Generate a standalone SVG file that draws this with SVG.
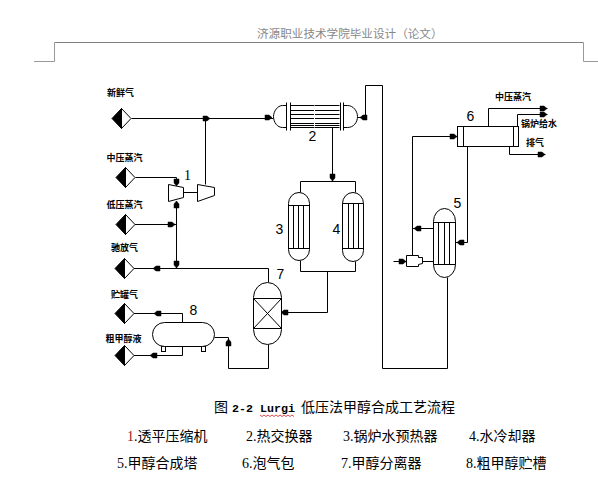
<svg xmlns="http://www.w3.org/2000/svg" xmlns:xlink="http://www.w3.org/1999/xlink" width="598" height="490" viewBox="0 0 598 490">
<style>
.l{fill:none;stroke:#000;stroke-width:1}
.s{fill:#fff;stroke:#000;stroke-width:1}
.t{font-family:"Noto Sans CJK SC",sans-serif;font-size:9px;font-weight:700;fill:#000;text-anchor:middle}
.n{font-family:"Liberation Sans",sans-serif;font-size:14px;fill:#000;text-anchor:middle}
.c{font-family:"Liberation Serif","Noto Sans CJK SC",serif;font-size:14px;fill:#000}
.m{font-family:"Liberation Mono",monospace;font-size:11.67px;font-weight:700}
.h{font-family:"Noto Sans CJK SC",sans-serif;font-size:11.6px;fill:#888}
</style>
<defs>
<g id="ah"><polygon points="-3.5,-2.5 0.5,-2.5 3.5,0 0.5,2.5 -3.5,2.5" fill="#000" stroke="#000" stroke-width=".5"/></g>
<g id="dm"><polygon points="0,-10 9.5,0 0,10" fill="#fff" stroke="#000"/><polygon points="0,-10 -9.5,0 0,10" fill="#000" stroke="#000"/></g>
</defs>

<g id="header">
<path d="M34 61.5H54.5V42.5H583.5V61.5H598" fill="none" stroke="#999"/>
<path d="M55 42.5H583" fill="none" stroke="#808080"/>
<text class="h" x="257" y="38">济源职业技术学院毕业设计（论文）</text>
</g>

<g id="connectors" transform="translate(.5 .5)">
<path class="l" d="M131 118H273"/>
<path class="l" d="M205 118V184"/>
<path class="l" d="M135 177H176V185"/>
<path class="l" d="M134 224H176"/>
<path class="l" d="M176 201V268"/>
<path class="l" d="M183 192H197"/>
<path class="l" d="M133 268H268V282"/>
<path class="l" d="M133 313H182V322"/>
<path class="l" d="M182 346V355H133"/>
<path class="l" d="M214 337H228V368H268V344"/>
<path class="l" d="M281 312H327V271"/>
<path class="l" d="M300 260V271H355V261"/>
<path class="l" d="M300 192V181H355V192"/>
<path class="l" d="M332 127V181"/>
<path class="l" d="M357 117H365V85H382V368H447V277"/>
<path class="l" d="M488 126V108H547"/>
<path class="l" d="M517 126V114H547"/>
<path class="l" d="M509 146V154H545"/>
<path class="l" d="M457 136H412V255"/>
<path class="l" d="M433 228H412"/>
<path class="l" d="M467 146V242H455"/>
<path class="l" d="M433 261H422"/>
<path class="l" d="M393 261H406"/>
<use xlink:href="#ah" transform="translate(206 118)"/>
<use xlink:href="#ah" transform="translate(176 182) rotate(90)"/>
<use xlink:href="#ah" transform="translate(176 204) rotate(-90)"/>
<use xlink:href="#ah" transform="translate(171 224)"/>
<use xlink:href="#ah" transform="translate(176 264) rotate(90)"/>
<use xlink:href="#ah" transform="translate(156 268) rotate(180)"/>
<use xlink:href="#ah" transform="translate(157 313) rotate(180)"/>
<use xlink:href="#ah" transform="translate(153 355) rotate(180)"/>
<use xlink:href="#ah" transform="translate(228 342) rotate(-90)"/>
<use xlink:href="#ah" transform="translate(284 312) rotate(180)"/>
<use xlink:href="#ah" transform="translate(268 117)"/>
<use xlink:href="#ah" transform="translate(363 117) rotate(180)"/>
<use xlink:href="#ah" transform="translate(332 177) rotate(90)"/>
<use xlink:href="#ah" transform="translate(543 108)"/>
<use xlink:href="#ah" transform="translate(543 114)"/>
<use xlink:href="#ah" transform="translate(541 154)"/>
<use xlink:href="#ah" transform="translate(453 136)"/>
<use xlink:href="#ah" transform="translate(417 228) rotate(180)"/>
<use xlink:href="#ah" transform="translate(460 242) rotate(180)"/>
<use xlink:href="#ah" transform="translate(402 261)"/>
</g>

<g id="feed-fresh" transform="translate(.5 .5)"><use xlink:href="#dm" transform="translate(121 118)"/><text class="t" x="120" y="95">新鲜气</text></g>
<g id="feed-mp-steam" transform="translate(.5 .5)"><use xlink:href="#dm" transform="translate(125 177)"/><text class="t" x="124" y="160">中压蒸汽</text></g>
<g id="feed-lp-steam" transform="translate(.5 .5)"><use xlink:href="#dm" transform="translate(125 224)"/><text class="t" x="124" y="207">低压蒸汽</text></g>
<g id="out-purge" transform="translate(.5 .5)"><use xlink:href="#dm" transform="translate(124 268)"/><text class="t" x="124" y="250">驰放气</text></g>
<g id="out-tank-gas" transform="translate(.5 .5)"><use xlink:href="#dm" transform="translate(124 313)"/><text class="t" x="124" y="297">贮罐气</text></g>
<g id="out-crude" transform="translate(.5 .5)"><use xlink:href="#dm" transform="translate(124 355)"/><text class="t" x="123" y="341">粗甲醇液</text></g>

<g id="compressor-1" transform="translate(.5 .5)">
<polygon class="s" points="168,184 183,187 183,197 168,201"/>
<polygon class="s" points="197,184 214,187 214,195 197,201"/>
<text class="n" x="187" y="179" style="font-family:'Liberation Serif',serif">1</text>
</g>

<g id="exchanger-2" transform="translate(.5 .5)">
<path class="s" d="M286 105H282C277 105 273 111 273 116C273 122 277 127 282 127H286Z"/>
<path class="s" d="M343 105H347C353 105 357 111 357 116C357 122 353 127 347 127H343Z"/>
<path class="l" d="M286 102V130M290 102V130M340 102V130M343 102V130"/>
<path class="l" d="M290 105H339M290 110H339M290 114H339M290 118H339M290 123H339M290 125H339M290 127H339"/>
<path d="M314 105V127" fill="none" stroke="#fff"/>
<text class="n" x="312" y="140">2</text>
</g>

<g id="vessel-3" transform="translate(.5 .5)">
<rect class="s" x="288" y="192" width="21" height="68" rx="10.5" ry="11"/>
<path class="l" d="M288 205H309M288 248H309M293 205V248M298 205V248M303 205V248"/>
<text class="n" x="279" y="233">3</text>
</g>

<g id="vessel-4" transform="translate(.5 .5)">
<rect class="s" x="342" y="192" width="21" height="69" rx="10.5" ry="11"/>
<path class="l" d="M342 203H363M342 248H363M348 203V248M353 203V248M358 203V248"/>
<text class="n" x="336" y="233">4</text>
</g>

<g id="reactor-5" transform="translate(.5 .5)">
<rect class="s" x="433" y="208" width="22" height="69" rx="11" ry="13"/>
<path class="l" d="M433 222H455M433 264H455M438 222V264M444 222V264M449 222V264"/>
<text class="n" x="457" y="207">5</text>
</g>

<g id="drum-6" transform="translate(.5 .5)">
<rect class="s" x="457" y="126" width="61" height="20"/>
<path class="l" d="M463 126V146M513 126V146"/>
<text class="n" x="470" y="120">6</text>
</g>

<g id="separator-7" transform="translate(.5 .5)">
<rect class="s" x="253" y="282" width="28" height="62" rx="14" ry="15"/>
<rect class="s" x="253" y="298" width="28" height="30"/>
<path class="l" d="M253 298L281 328M281 298L253 328"/>
<text class="n" x="280" y="278">7</text>
</g>

<g id="tank-8" transform="translate(.5 .5)">
<rect class="s" x="161" y="346" width="4" height="5"/>
<rect class="s" x="201" y="346" width="4" height="5"/>
<rect class="s" x="152" y="322" width="62" height="24" rx="12" ry="12"/>
<text class="n" x="193" y="314">8</text>
</g>

<g id="compressor-small" transform="translate(.5 .5)">
<polygon class="s" points="406,255 418,255 418,257 422,257 422,263 418,264 418,266 406,266"/>
</g>

<g id="stream-labels">
<text class="t" x="513" y="100">中压蒸汽</text>
<text class="t" x="539" y="127">锅炉给水</text>
<text class="t" x="535" y="146">排气</text>
</g>

<g id="caption">
<text class="c" x="214" y="412">图</text>
<text class="c m" x="232" y="412">2-2</text>
<text class="c m" x="260" y="412">Lurgi</text>
<text class="c" x="301" y="412">低压法甲醇合成工艺流程</text>
<path d="M260 415l2 1.5 2-1.5 2 1.5 2-1.5 2 1.5 2-1.5 2 1.5 2-1.5 2 1.5 2-1.5 2 1.5 2-1.5 2 1.5 2-1.5 2 1.5 2-1.5 2 1.5" fill="none" stroke="#d02020" stroke-width=".8"/>
<text class="c" x="127" y="441"><tspan fill="#8b1a1a">1</tspan>.透平压缩机</text>
<text class="c" x="246" y="441">2.热交换器</text>
<text class="c" x="343" y="441">3.锅炉水预热器</text>
<text class="c" x="469" y="441">4.水冷却器</text>
<text class="c" x="117" y="468">5.甲醇合成塔</text>
<text class="c" x="242" y="468">6.泡气包</text>
<text class="c" x="341" y="468">7.甲醇分离器</text>
<text class="c" x="466" y="468">8.粗甲醇贮槽</text>
</g>
</svg>
